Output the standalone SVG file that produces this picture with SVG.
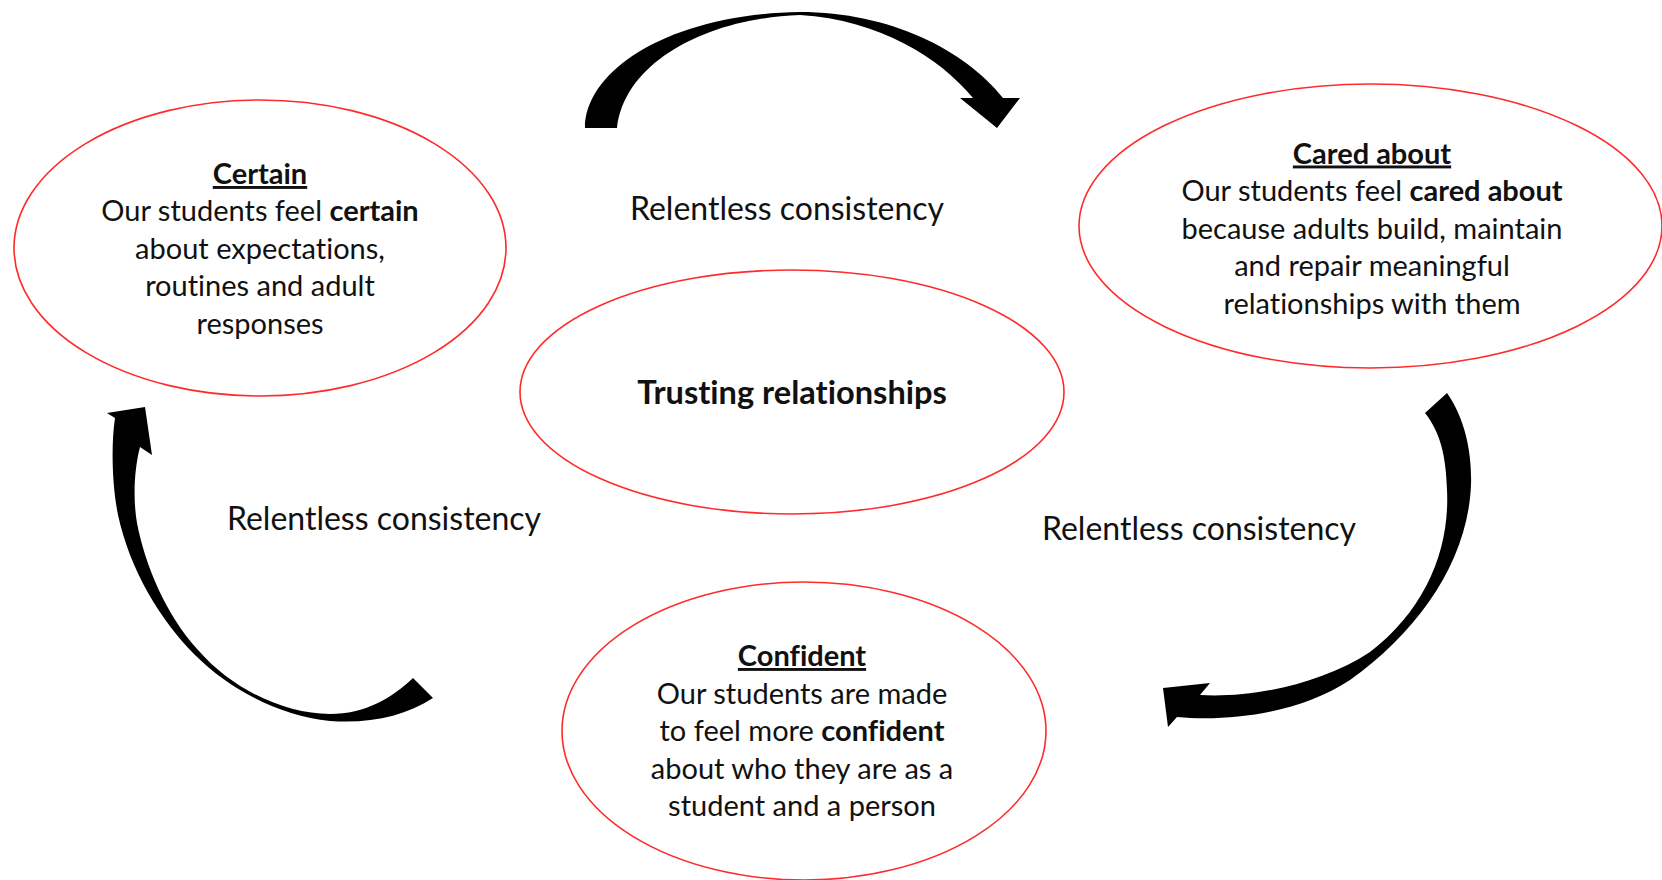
<svg xmlns="http://www.w3.org/2000/svg" width="1662" height="880" viewBox="0 0 1662 880">
<style>
.ell{fill:none;stroke:#ff2a2a;stroke-width:1.6}
.t{font-family:Lato,"Liberation Sans",sans-serif;font-size:29px;fill:#111;text-anchor:middle;font-variant-ligatures:none}
.lbl{font-size:32px}
.ctr{font-size:32.6px;font-weight:bold}
.h{font-weight:bold;text-decoration:underline}
.b{font-weight:bold}
.arrow{fill:#000;stroke:none}
</style>
<rect width="1662" height="880" fill="#fff"/>
<g id="connectors">
<path class="arrow" d="M585,128 C585,70 670,14 800,12 C890,12 965,50 1003,98 L1020,98 L997,128 L960,98 L973,98 C940,58 880,20 800,15 C710,18 625,60 617,128 Z"/>
<path class="arrow" d="M1447,393 C1466,420 1472,455 1471,485 C1468,560 1420,630 1350,680 C1300,713 1230,722 1177,717 L1168,727 L1163,688 L1210,683 L1200,695 C1250,698 1320,685 1370,652 C1425,610 1450,550 1447,490 C1446,455 1440,432 1425,413 Z"/>
<path class="arrow" d="M433,698 C405,716 370,724 330,721 C280,716 230,690 195,655 C160,620 130,570 118,515 C112,485 111,445 115,418 L107,413 L145,407 L152,455 L140,447 C134,470 133,500 137,523 C145,565 166,615 198,650 C233,690 285,714 330,714 C365,714 392,698 413,678 Z"/>
<text class="t lbl" x="787" y="219.5">Relentless consistency</text>
<text class="t lbl" x="1199" y="540">Relentless consistency</text>
<text class="t lbl" x="384" y="530">Relentless consistency</text>
</g>
<g id="node-certain">
<ellipse class="ell" cx="260" cy="248" rx="246" ry="148"/>
<text class="t" x="260" y="184"><tspan class="h">Certain</tspan></text>
<text class="t" x="260" y="221">Our students feel <tspan class="b">certain</tspan></text>
<text class="t" x="260" y="258.5">about expectations,</text>
<text class="t" x="260" y="296">routines and adult</text>
<text class="t" x="260" y="333.5">responses</text>
</g>
<g id="node-cared">
<ellipse class="ell" cx="1370.5" cy="226" rx="291.5" ry="142"/>
<text class="t" x="1372" y="163.5"><tspan class="h">Cared about</tspan></text>
<text class="t" x="1372" y="201">Our students feel <tspan class="b">cared about</tspan></text>
<text class="t" x="1372" y="238.5">because adults build, maintain</text>
<text class="t" x="1372" y="276">and repair meaningful</text>
<text class="t" x="1372" y="313.5">relationships with them</text>
</g>
<g id="node-trusting">
<ellipse class="ell" cx="792" cy="392" rx="272" ry="122"/>
<text class="t ctr" x="792" y="404">Trusting relationships</text>
</g>
<g id="node-confident">
<ellipse class="ell" cx="804" cy="731" rx="242" ry="149"/>
<text class="t" x="802" y="666"><tspan class="h">Confident</tspan></text>
<text class="t" x="802" y="704">Our students are made</text>
<text class="t" x="802" y="741">to feel more <tspan class="b">confident</tspan></text>
<text class="t" x="802" y="779">about who they are as a</text>
<text class="t" x="802" y="816">student and a person</text>
</g>
</svg>
